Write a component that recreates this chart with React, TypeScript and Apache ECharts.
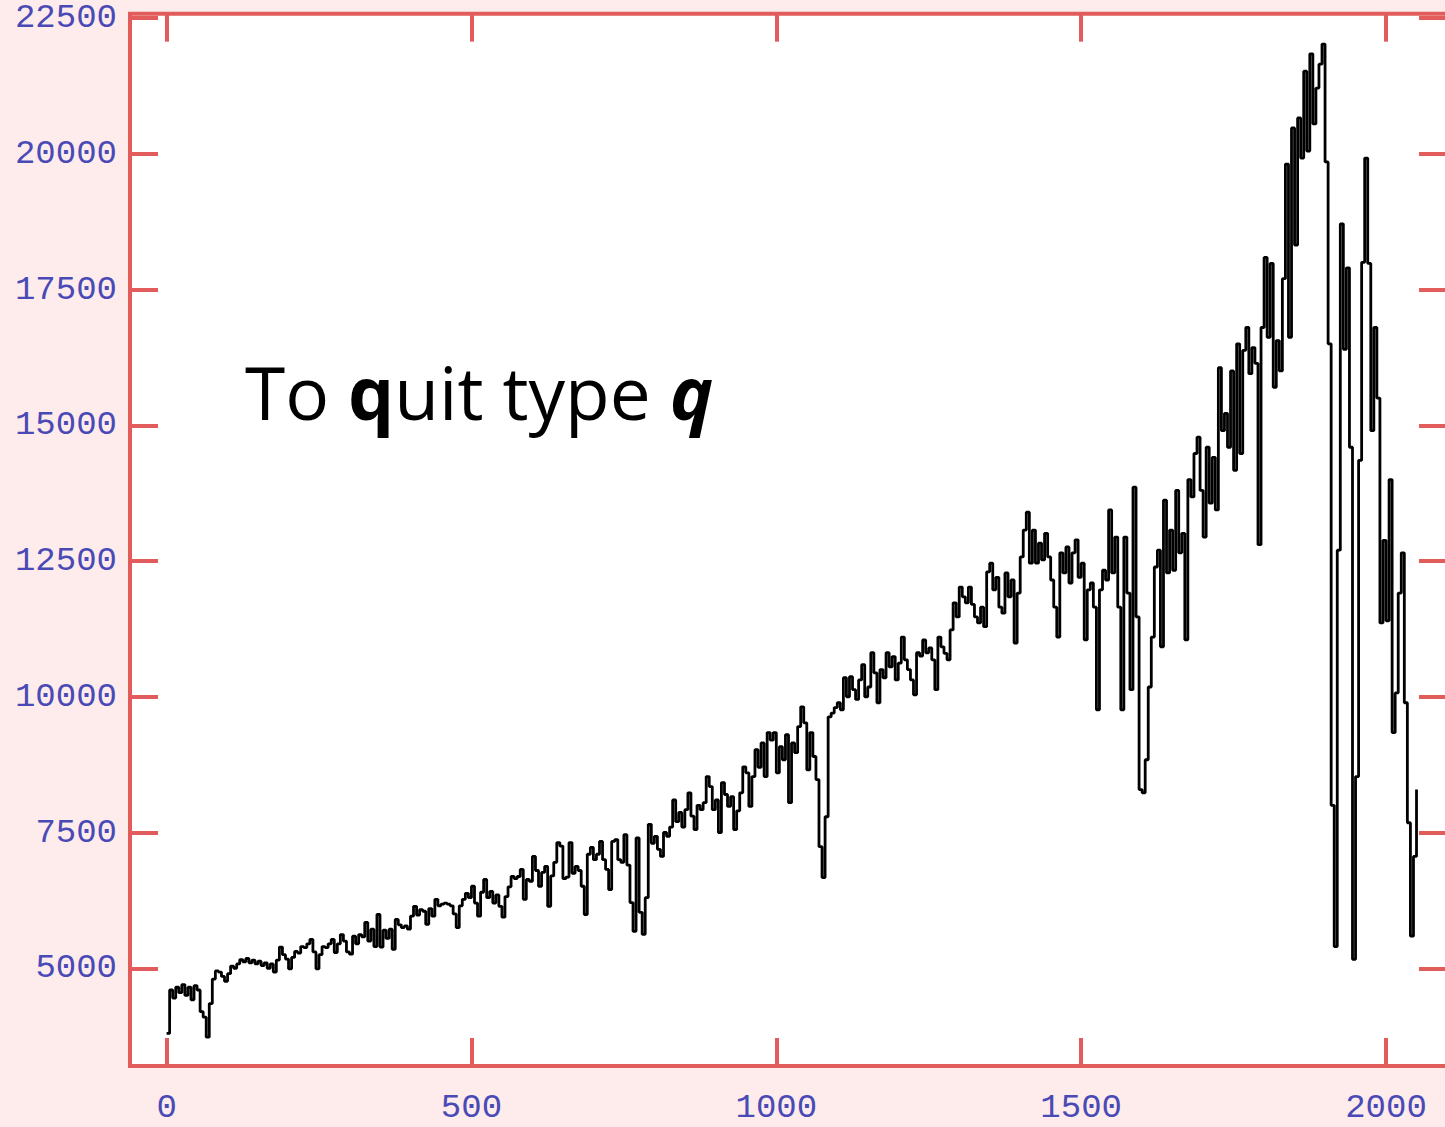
import React, { useEffect, useRef } from "react";
import * as echarts from "echarts";

// Sampling step (in index units) of the close series below.
const SAMPLE_STEP = 5;

// Close values, one every SAMPLE_STEP index units, starting at index 0.
const closeSeries: number[] = [
  // 0 - 95
  3800, 4600, 4450, 4650, 4550, 4700, 4500, 4650, 4420, 4680, 4600, 4200, 4100, 3730, 4350, 4800, 4950, 4930, 4850, 4760,
  // 100 - 195
  4900, 5040, 5000, 5080, 5160, 5120, 5180, 5100, 5150, 5080, 5130, 5050, 5100, 5000, 5080, 4930, 5150, 5390, 5250, 5170,
  // 200 - 295
  4990, 5200, 5310, 5280, 5400, 5380, 5450, 5530, 5300, 4990, 5250, 5400, 5380, 5450, 5530, 5290, 5450, 5620, 5500, 5300,
  // 300 - 395
  5260, 5590, 5450, 5620, 5580, 5845, 5500, 5720, 5400, 5990, 5390, 5700, 5550, 5720, 5350, 5900, 5800, 5750, 5780, 5720,
  // 400 - 495
  5960, 6140, 5980, 6080, 6050, 5810, 6100, 5960, 6270, 6150, 6180, 6200, 6180, 6150, 6000, 5750, 6150, 6270, 6380, 6300,
  // 500 - 595
  6510, 6200, 5960, 6400, 6635, 6300, 6415, 6200, 6350, 6140, 5940, 6320, 6500, 6690, 6650, 6690, 6820, 6270, 6635, 6600,
  // 600 - 695
  7060, 6800, 6510, 6765, 6875, 6140, 6700, 6950, 7315, 7250, 6650, 6680, 7315, 6750, 6875, 6800, 6510, 5990, 7100, 7225,
  // 700 - 795
  7000, 7100, 7335, 7000, 6820, 6450, 7335, 7370, 7000, 6950, 7460, 6900, 6210, 5680, 7400, 6030, 5625, 6300, 7650, 7300,
  // 800 - 895
  7430, 7190, 7060, 7500, 7430, 7600, 8100, 7700, 7870, 7600, 7920, 8230, 7800, 7555, 8000, 7920, 8050, 8530, 8345, 7920,
  // 900 - 995
  8100, 7500, 8420, 8200, 7980, 8160, 7555, 7900, 8230, 8710, 8600, 7980, 8530, 9025, 8700, 9150, 8530, 9340, 9200, 9340,
  // 1000 - 1095
  8600, 9080, 8840, 9300, 8050, 9150, 8970, 9450, 9815, 9520, 8655, 9340, 8900, 8475, 7240, 6670, 7790, 9630, 9700, 9800,
  // 1100 - 1195
  9890, 9760, 10350, 10000, 10370, 10130, 9950, 10310, 10590, 10000, 10180, 10810, 10440, 9890, 10500, 10350, 10810, 10550, 10740, 10310,
  // 1200 - 1295
  10620, 11100, 10680, 10500, 10310, 10035, 10810, 10750, 11045, 10810, 10900, 10680, 10130, 11100, 10920, 10800, 10680, 11230, 11730, 11470,
  // 1300 - 1395
  12020, 11840, 11730, 12020, 11700, 11470, 11360, 11650, 11290, 12300, 12460, 11970, 12200, 11650, 11540, 12280, 11840, 12150, 10990, 11910,
  // 1400 - 1495
  12575, 13070, 13400, 12460, 13070, 12460, 12830, 12520, 13010, 12575, 12150, 11650, 11100, 12650, 12280, 12760, 12095, 12650, 12890, 12200,
  // 1500 - 1595
  12460, 11050, 11970, 12095, 11650, 9760, 11970, 12330, 12150, 13440, 12280, 12940, 11650, 9760, 12940, 11910, 10130, 13860, 11470, 8290,
  // 1600 - 1695
  8230, 8840, 10180, 11100, 12390, 12700, 10920, 13620, 12280, 13070, 12330, 13800, 12650, 13010, 11050, 14000, 13680, 14480, 14780, 13800,
  // 1700 - 1795
  12940, 14595, 13565, 14410, 13440, 16060, 14900, 15220, 14595, 16000, 14170, 16500, 14480, 16380, 16800, 15950, 16430, 16140, 12800, 16800,
  // 1800 - 1895
  18090, 16620, 17980, 15700, 16560, 16000, 17700, 19810, 16620, 20475, 18320, 20660, 19920, 21520, 20050, 21840, 20550, 21210, 21650, 22020,
  // 1900 - 1995
  19850, 16500, 8000, 5400, 12700, 18710, 16400, 17900, 14595, 5165, 8530, 14355, 18000, 19920, 17980, 14900, 16800, 15500, 11360, 12880,
  // 2000 - 2050
  11400, 14000, 9340, 10070, 11910, 12650, 9890, 7680, 5590, 7060, 8290,
];

// Axis tick positions and their labels.
const xTicks = [0, 500, 1000, 1500, 2000];
const yTicks = [5000, 7500, 10000, 12500, 15000, 17500, 20000, 22500];

const FRAME_RED = "#e35c5c";
const LABEL_BLUE = "#4a4ab6";
const LABEL_FONT = "Liberation Mono";

// The plot frame's right edge sits just past the visible page width.
const VIEW_W = 1445;
const VIEW_H = 1127;
const CHART_W = 1449;

export default function App() {
  const ref = useRef<HTMLDivElement | null>(null);

  useEffect(() => {
    if (!ref.current) return;
    const chart = echarts.init(ref.current, undefined, { renderer: "svg" });

    const points = closeSeries.map((v, k) => [k * SAMPLE_STEP, v]);

    const tickStyle = { color: FRAME_RED, width: 4 };
    const labelStyle = {
      color: LABEL_BLUE,
      fontFamily: LABEL_FONT,
      fontSize: 34,
      lineHeight: 26,
    };
    const hiddenLine = { show: false, onZero: false };

    chart.setOption({
      animation: false,
      backgroundColor: "#fdeceb",
      grid: {
        left: 130,
        right: 2,
        top: 13,
        bottom: 61,
        show: true,
        backgroundColor: "#ffffff",
        borderColor: FRAME_RED,
        borderWidth: 4,
      },
      xAxis: [
        {
          type: "value",
          position: "bottom",
          min: -60,
          max: 2100,
          axisLine: hiddenLine,
          splitLine: { show: false },
          axisTick: {
            show: true,
            inside: true,
            length: 28,
            customValues: xTicks,
            lineStyle: tickStyle,
          },
          axisLabel: {
            ...labelStyle,
            margin: 29,
            customValues: xTicks,
            formatter: (v: number) => String(v),
          },
        },
        {
          type: "value",
          position: "top",
          min: -60,
          max: 2100,
          axisLine: hiddenLine,
          splitLine: { show: false },
          axisTick: {
            show: true,
            inside: true,
            length: 28,
            customValues: xTicks,
            lineStyle: tickStyle,
          },
          axisLabel: { show: false },
        },
      ],
      yAxis: [
        {
          type: "value",
          position: "left",
          min: 3200,
          max: 22580,
          axisLine: hiddenLine,
          splitLine: { show: false },
          axisTick: {
            show: true,
            inside: true,
            length: 28,
            customValues: yTicks,
            lineStyle: tickStyle,
          },
          axisLabel: {
            ...labelStyle,
            margin: 13,
            // labels sit a few pixels below their ticks
            padding: [10, 0, 0, 0],
            customValues: yTicks,
            formatter: (v: number) => String(v),
          },
        },
        {
          type: "value",
          position: "right",
          min: 3200,
          max: 22580,
          axisLine: hiddenLine,
          splitLine: { show: false },
          axisTick: {
            show: true,
            inside: true,
            length: 28,
            customValues: yTicks,
            lineStyle: tickStyle,
          },
          axisLabel: { show: false },
        },
      ],
      series: [
        {
          type: "line",
          data: points,
          step: "end",
          showSymbol: false,
          symbol: "none",
          lineStyle: { color: "#000000", width: 2.8 },
          xAxisIndex: 0,
          yAxisIndex: 0,
        },
      ],
      graphic: [
        {
          type: "text",
          left: 245,
          top: 355,
          style: {
            text: "{n|To }{b|q}{n|uit type }{bi|q}",
            rich: {
              n: { fontFamily: "Open Sans", fontSize: 73, color: "#000" },
              b: { fontFamily: "Open Sans", fontSize: 73, fontWeight: "bold", color: "#000" },
              bi: {
                fontFamily: "Open Sans",
                fontSize: 73,
                fontWeight: "bold",
                fontStyle: "italic",
                color: "#000",
              },
            },
          },
        },
      ],
    });

    return () => chart.dispose();
  }, []);

  return (
    <div
      style={{
        position: "fixed",
        left: 0,
        top: 0,
        width: VIEW_W,
        height: VIEW_H,
        overflow: "hidden",
      }}
    >
      <div ref={ref} style={{ width: CHART_W, height: VIEW_H }} />
    </div>
  );
}
